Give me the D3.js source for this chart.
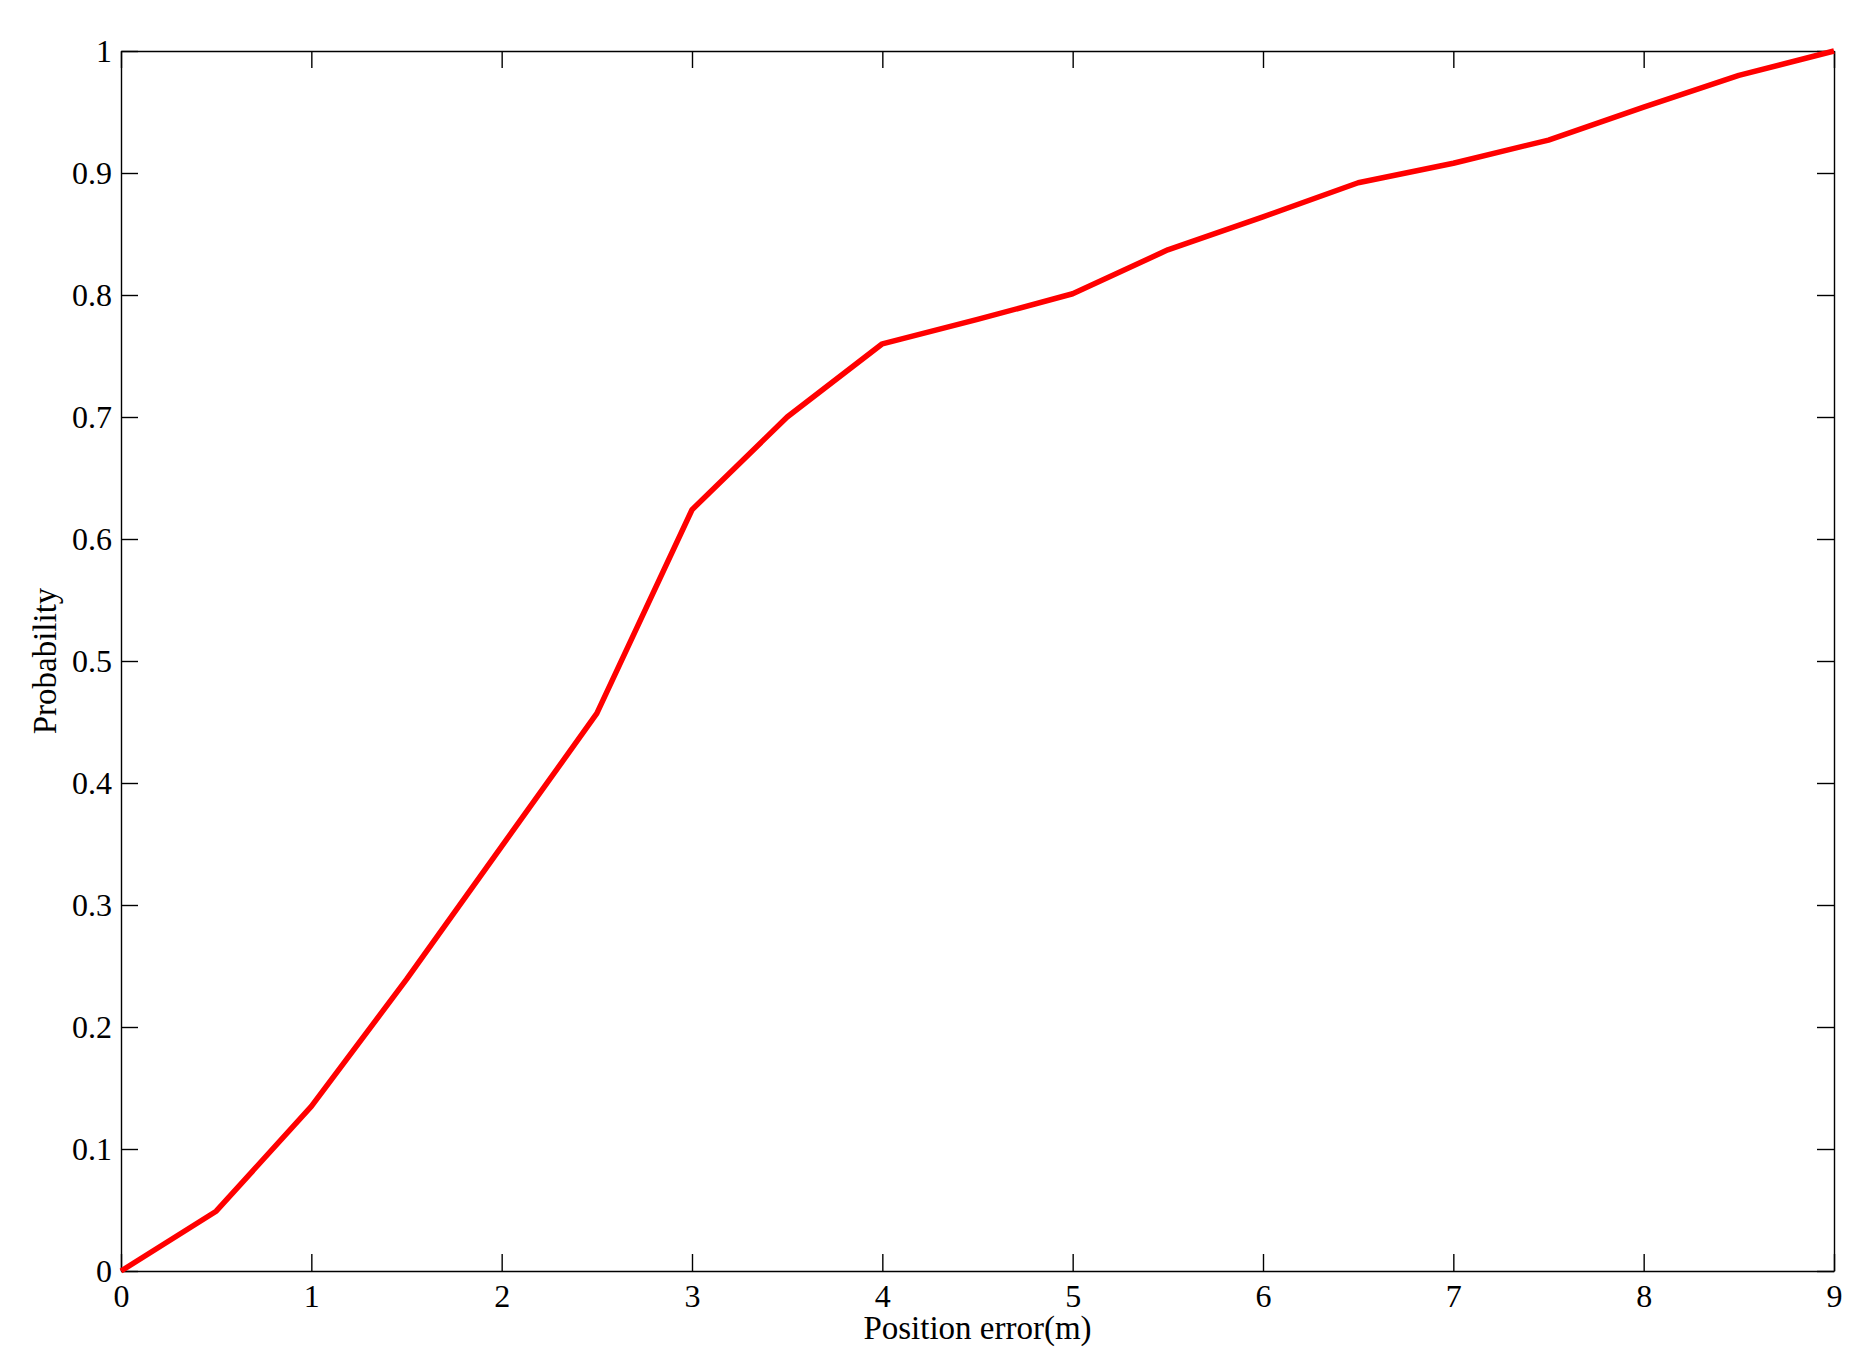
<!DOCTYPE html>
<html>
<head>
<meta charset="utf-8">
<script src="https://cdn.jsdelivr.net/npm/d3@7"></script>
<style>
  body { margin: 0; background: #fff; }
  svg { display: block; }
  .axis text { font-family: "Liberation Serif", "DejaVu Serif", serif; font-size: 32px; fill: #000; }
  .axis path, .axis line { stroke: #000; stroke-width: 1.4; }
</style>
</head>
<body>
<div id="chart"></div>
<script>
// position error (m) and cumulative probability
const errors = [0, 0.5, 1, 1.5, 2, 2.5, 3, 3.5, 4, 4.5, 5, 5.5, 6, 6.5, 7, 7.5, 8, 8.5, 9];
const probabilities = [0, 0.049, 0.135, 0.239, 0.348, 0.457, 0.624, 0.700, 0.760, 0.780, 0.801, 0.837, 0.864, 0.892, 0.908, 0.927, 0.954, 0.980, 1.0];

const xTicks = [0, 1, 2, 3, 4, 5, 6, 7, 8, 9];
const yTicks = [0, 0.1, 0.2, 0.3, 0.4, 0.5, 0.6, 0.7, 0.8, 0.9, 1];

const margin = { top: 51, right: 35, bottom: 97, left: 121 },
  width = 1869 - margin.left - margin.right,
  height = 1368 - margin.top - margin.bottom;

const svg = d3.select("#chart")
  .append("svg")
  .attr("width", width + margin.left + margin.right)
  .attr("height", height + margin.top + margin.bottom)
  .append("g")
  .attr("transform", `translate(${margin.left}, ${margin.top})`);

const x = d3.scaleLinear().domain([0, 9]).range([0, width]);
const y = d3.scaleLinear().domain([0, 1]).range([height, 0]);

const tick = 17;

// bottom and left axes with labels, ticks pointing inward
svg.append("g")
  .attr("class", "axis")
  .attr("transform", `translate(0, ${height})`)
  .call(d3.axisBottom(x).tickValues(xTicks).tickFormat(d3.format("d"))
    .tickSizeInner(-tick).tickSizeOuter(0).tickPadding(13));

svg.append("g")
  .attr("class", "axis")
  .call(d3.axisLeft(y).tickValues(yTicks).tickFormat(d => d3.format("")(+d.toFixed(1)))
    .tickSizeInner(-tick).tickSizeOuter(0).tickPadding(9));

// mirrored ticks on top and right (box style)
svg.append("g")
  .attr("class", "axis")
  .call(d3.axisTop(x).tickValues(xTicks).tickFormat("")
    .tickSizeInner(-tick).tickSizeOuter(0));

svg.append("g")
  .attr("class", "axis")
  .attr("transform", `translate(${width}, 0)`)
  .call(d3.axisRight(y).tickValues(yTicks).tickFormat("")
    .tickSizeInner(-tick).tickSizeOuter(0));

// the CDF line
const line = d3.line()
  .x((d, i) => x(errors[i]))
  .y(d => y(d));

svg.append("path")
  .datum(probabilities)
  .attr("fill", "none")
  .attr("stroke", "#ff0000")
  .attr("stroke-width", 5.5)
  .attr("stroke-linejoin", "round")
  .attr("d", line);

// axis titles
svg.append("text")
  .attr("x", width / 2)
  .attr("y", height + 68)
  .attr("text-anchor", "middle")
  .style("font-family", "'Liberation Serif', serif")
  .style("font-size", "33px")
  .text("Position error(m)");

svg.append("text")
  .attr("transform", `translate(${56 - margin.left}, ${height / 2}) rotate(-90)`)
  .attr("text-anchor", "middle")
  .style("font-family", "'Liberation Serif', serif")
  .style("font-size", "33px")
  .text("Probability");
</script>
</body>
</html>
